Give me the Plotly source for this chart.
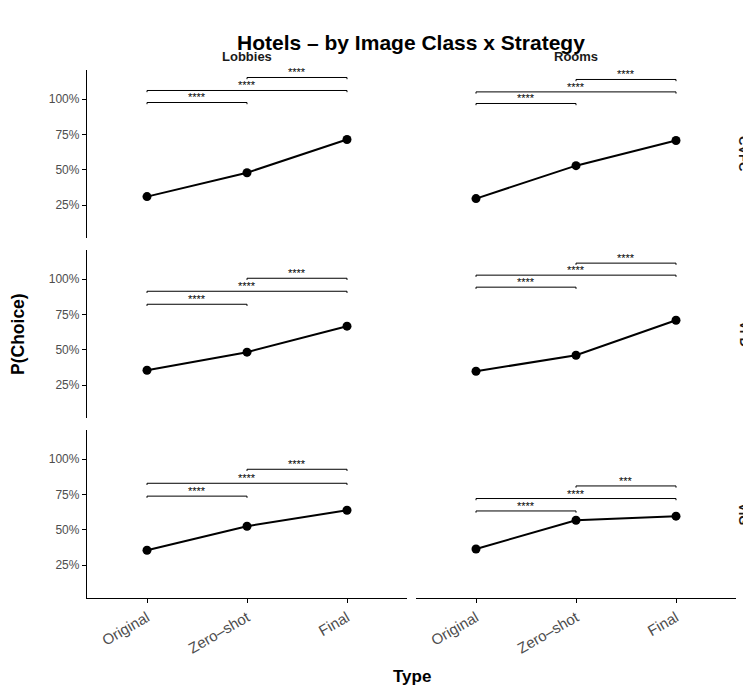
import plotly.graph_objects as go

# The page body has an 8px margin, so the figure is 8px smaller and every
# page-pixel position below is shifted by OFF.
OFF = 8
W, H = 751 - OFF, 691 - OFF
FONT = "Liberation Sans, Arial, sans-serif"

types = ["Original", "Zero\u2013shot", "Final"]
image_classes = ["Lobbies", "Rooms"]
strategies = ["CVFC", "VFD", "VIG"]

# P(Choice) per strategy (row) and image class (column)
lobbies_vals = {
    "CVFC": [0.311, 0.480, 0.715],
    "VFD": [0.356, 0.484, 0.668],
    "VIG": [0.356, 0.526, 0.639],
}
rooms_vals = {
    "CVFC": [0.297, 0.530, 0.708],
    "VFD": [0.349, 0.462, 0.710],
    "VIG": [0.365, 0.568, 0.597],
}

# significance brackets: (from, to) pairs, y levels, labels
pairs = [(1, 2), (1, 3), (2, 3)]
lobbies_brk_y = {
    "CVFC": [0.977, 1.062, 1.154],
    "VFD": [0.823, 0.915, 1.007],
    "VIG": [0.739, 0.830, 0.929],
}
rooms_brk_y = {
    "CVFC": [0.970, 1.052, 1.140],
    "VFD": [0.944, 1.029, 1.114],
    "VIG": [0.634, 0.722, 0.811],
}
lobbies_brk_lab = {
    "CVFC": ["****", "****", "****"],
    "VFD": ["****", "****", "****"],
    "VIG": ["****", "****", "****"],
}
rooms_brk_lab = {
    "CVFC": ["****", "****", "****"],
    "VFD": ["****", "****", "****"],
    "VIG": ["****", "****", "***"],
}

yticks = [0.25, 0.5, 0.75, 1.0]
ytick_text = ["25%", "50%", "75%", "100%"]

# layout geometry (page pixels)
col_px = [(87, 407), (416, 736)]
row_px = [(70, 238), (250, 418), (430, 598)]
YR = [0.018, 1.207]
TIP = 0.012


def fx(px):
    return (px - OFF) / W


def fy(py):
    return 1 - (py - OFF) / H


fig = go.Figure()
layout = dict(
    width=W, height=H, margin=dict(l=0, r=0, t=0, b=0),
    paper_bgcolor="white", plot_bgcolor="white",
    showlegend=False, font=dict(family=FONT, color="black"),
)
annotations = []

idx = 0
for r, strat in enumerate(strategies):
    for c, cls in enumerate(image_classes):
        idx += 1
        xa = "x" if idx == 1 else f"x{idx}"
        ya = "y" if idx == 1 else f"y{idx}"
        xkey = "xaxis" if idx == 1 else f"xaxis{idx}"
        ykey = "yaxis" if idx == 1 else f"yaxis{idx}"
        x0, x1 = col_px[c]
        y0, y1 = row_px[r]
        bottom = (r == len(strategies) - 1)
        left = (c == 0)
        layout[xkey] = dict(
            domain=[fx(x0), fx(x1)], range=[0.4, 3.6], anchor=ya,
            tickvals=[1, 2, 3], ticktext=types,
            showticklabels=bottom, ticks="outside" if bottom else "",
            ticklen=4, tickcolor="black", tickwidth=1,
            showline=bottom, linecolor="black", linewidth=1.3,
            showgrid=False, zeroline=False, tickangle=-30,
            tickfont=dict(size=15, color="#4D4D4D", family=FONT),
        )
        layout[ykey] = dict(
            domain=[fy(y1), fy(y0)], range=YR, anchor=xa,
            tickvals=yticks, ticktext=ytick_text,
            showticklabels=left, ticks="outside" if left else "",
            ticklen=4, tickcolor="black", tickwidth=1,
            showline=left, linecolor="black", linewidth=1.3,
            showgrid=False, zeroline=False,
            tickfont=dict(size=12, color="#4D4D4D", family=FONT),
        )
        vals = (lobbies_vals if c == 0 else rooms_vals)[strat]
        fig.add_trace(go.Scatter(
            x=[1, 2, 3], y=vals, mode="lines+markers", xaxis=xa, yaxis=ya,
            line=dict(color="black", width=2),
            marker=dict(color="black", size=9),
            hoverinfo="skip",
        ))
        bys = (lobbies_brk_y if c == 0 else rooms_brk_y)[strat]
        labs = (lobbies_brk_lab if c == 0 else rooms_brk_lab)[strat]
        for (a, b), by, lab in zip(pairs, bys, labs):
            fig.add_trace(go.Scatter(
                x=[a, a, b, b], y=[by - TIP, by, by, by - TIP], mode="lines",
                xaxis=xa, yaxis=ya, line=dict(color="black", width=1),
                hoverinfo="skip",
            ))
            annotations.append(dict(
                x=(a + b) / 2, y=by, xref=xa, yref=ya, text=lab,
                showarrow=False, yanchor="bottom", yshift=-3,
                font=dict(size=11, color="black", family=FONT),
            ))

# column strip labels
for c, cls in enumerate(image_classes):
    x0, x1 = col_px[c]
    annotations.append(dict(
        x=fx((x0 + x1) / 2), y=fy(56), xref="paper", yref="paper",
        text=f"<b>{cls}</b>", showarrow=False, xanchor="center", yanchor="middle",
        font=dict(size=13, color="#1A1A1A", family=FONT),
    ))
# row strip labels (rotated, mostly beyond the page edge)
for r, strat in enumerate(strategies):
    y0, y1 = row_px[r]
    annotations.append(dict(
        x=fx(744), y=fy((y0 + y1) / 2), xref="paper", yref="paper",
        text=f"<b>{strat}</b>", showarrow=False, xanchor="center", yanchor="middle",
        textangle=90, font=dict(size=13, color="#1A1A1A", family=FONT),
    ))

# title and axis titles
annotations.append(dict(
    x=fx(411), y=fy(43), xref="paper", yref="paper",
    text="<b>Hotels \u2013 by Image Class x Strategy</b>", showarrow=False,
    xanchor="center", yanchor="middle", font=dict(size=21, color="black", family=FONT),
))
annotations.append(dict(
    x=fx(412), y=fy(676), xref="paper", yref="paper",
    text="<b>Type</b>", showarrow=False, xanchor="center", yanchor="middle",
    font=dict(size=17, color="black", family=FONT),
))
annotations.append(dict(
    x=fx(18), y=fy(334), xref="paper", yref="paper",
    text="<b>P(Choice)</b>", showarrow=False, xanchor="center", yanchor="middle",
    textangle=-90, font=dict(size=17.5, color="black", family=FONT),
))

layout["annotations"] = annotations
fig.update_layout(**layout)
fig.write_html("out.html")
